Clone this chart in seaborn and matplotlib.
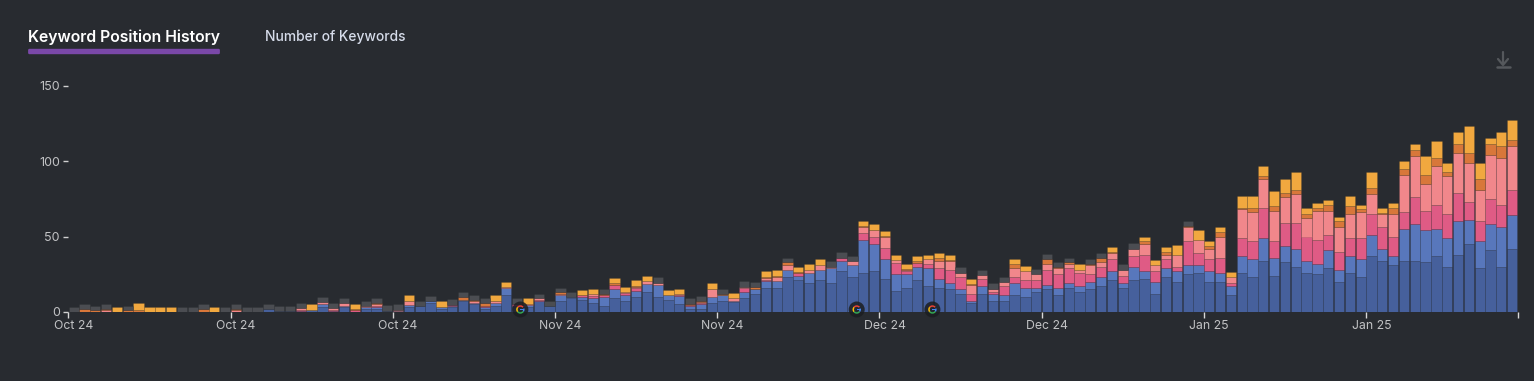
import numpy as np
import pandas as pd
import seaborn as sns
import matplotlib.pyplot as plt
from matplotlib.lines import Line2D
from matplotlib.patches import Circle, FancyBboxPatch, Rectangle, Wedge

# one entry per day, stacked from the bottom up
pos_1_3 = [0, 0, 0, 0, 0, 0, 0, 0, 0, 0,
           0, 0, 0, 0, 0, 0, 0, 0, 2, .5,
           .5, .5, 1.5, 3, .5, 3, 0, 2, 2, .5,
           .5, 3, 4, 6, 2, 3, 7, 5, 2, 4,
           11, 3, 3.5, 7, 4, 7.5, 9.5, 8, 6, 4,
           9.5, 7, 10, 13, 10, 8, 5, 2, 2, 6,
           7.5, 6.5, 9.5, 12, 16, 16, 23, 21, 19, 21,
           19, 27, 23, 26, 27, 22, 14, 16, 21, 17,
           16, 15, 12, 6, 12, 7, 7, 11, 10, 13,
           15, 11, 16, 13, 15, 17, 21, 16, 21, 22,
           12, 23, 20, 25, 26, 20, 20, 11, 26, 23,
           34, 24, 33, 30, 26, 25, 29, 20, 26, 23,
           37, 34, 31, 34, 34, 33, 37, 30, 38, 45,
           29, 41, 30, 42]
pos_4_10 = [0, 0, 0, 0, 0, 0, 0, 0, 0, 0,
            0, 0, 0, 0, 0, 0, 0, 0, 0, 0,
            0, 0, 0, 2, 0, 1, 0, 1, 1, 0,
            0, 1.5, 0, 1, 1, 1, 1, 1, 1, 2,
            5, 1, 1, 0, 0, 3.5, .5, 2, 3.5, 6,
            5.5, 4.5, 4, 5.5, 8, 3, 5.5, 2, 3, 4,
            3.5, .5, 4, 3, 4.5, 4.5, 5, 3, 7, 7,
            10, 7, 8, 22, 18, 13, 11, 9, 9, 12,
            6, 4, 3, 1, 5, 5, 4, 8, 6, 3,
            3, 5, 3, 4, 5, 6, 6, 3, 9, 5,
            8, 6, 7, 6, 5, 7, 6, 6.5, 11, 12,
            15, 12, 11, 12, 8, 7, 12, 8, 11, 12,
            14, 8, 6, 21, 24, 21, 18, 19, 22, 16,
            18, 17, 26, 22]
pos_11_20 = [0, 0, 0, 0, 0, 0, 0, 0, 0, 0,
             0, 0, 0, 0, 0, 0, 0, 0, 0, 0,
             0, 1, 0, .5, 1, 0, 1, .5, 1, 0,
             0, 0, 0, 0, 0, .5, 0, 0, 1, 0,
             0, 1, 0, 1, 0, 0, 0, 1, 1, 1,
             3, 1, 2, 0, 0, 0, .5, .5, 1, 0,
             0, 0, 2.5, .5, 1, 0, 0, 2, 0, 0,
             0, 2, 0, 4, 5, 7.5, 7.5, 2, 2.5, 3,
             7, 9, 8, 5, 5, 1, 6, 4, 5, 5,
             10, 9, 10, 9, 5, 7, 8, 5, 7, 11,
             7, 6, 3, 16, 8, 8, 10, 2, 12, 12,
             20, 11, 15, 17, 16, 16, 10, 12, 12, 14,
             14, 14, 13, 11, 18, 13, 16, 16, 19, 12,
             13, 17, 15, 17]
pos_21_30 = [0, 0, 0, 1, 0, 0, 0, 0, 0, 0,
             0, 0, 0, 0, 0, 1, 0, 0, 0, 0,
             0, 1, 0, 1, 1, 2, 0, .5, 1, 0,
             1, 2.5, 0, 0, .5, 0, 0, 1.5, 0, 1,
             .5, .5, .5, 1, 0, 1, 0, .5, 1.5, 0,
             0, 1, .5, 2, 1.5, 0, 1, 0, .5, 5,
             0, 2, .5, 0, 1, 3, 3, 0, 2, 3,
             1, 0, 3, 4, 4, 7.5, 2, 1, 0, 3,
             5, 6, 3, 6, 2.5, 2, 3, 6, 6, 4,
             4, 4, 3, 2, 6, 3, 4, 4, 5, 7,
             4, 3, 8, 9, 9, 7, 14, 4, 19, 19,
             19, 20, 17, 19, 12, 19, 16, 16, 16, 17,
             13, 9, 15, 25, 27, 18, 26, 25, 26, 26,
             21, 29, 31, 29]
pos_31_50 = [0, 2, 1, 1, 0, 1, 1, 0, 0, 0,
             0, 0, 2, 0, 0, 1, 0, 0, 0, 0,
             0, 0, 0, 0, 0, 0, 1, 0, 1, 0,
             0, .5, 0, 0, 0, 0, 2, .5, 2, .5,
             0, 0, 0, 0, 0, 1, 0, 0, 0, 1,
             1, 0, .5, 0, 0, 0, 0, .5, .5, .5,
             1, 0, 0, 1, .5, .5, 2, .5, 0, 0,
             0, 0, 0, 1, .5, .5, 0, .5, 1, 0,
             1.5, .5, 0, .5, 0, .5, 0, 3, 0, 0,
             3, 1, 1, 0, 1, 3, 1, 0, 0, 2,
             0, 2, 0, 1, 0, 2, 3, 0, 1, 3,
             2, 3, 3, 3, 3, 2, 4, 4, 5, 2,
             4, .5, 4, 4, 4, 6, 5, 3, 6, 6,
             7, 7, 8, 4]
pos_51_100 = [0, 0, 0, 0, 3, 0, 5, 3, 3, 3,
              0, 0, 0, 3, 0, 0, 0, 0, 0, 0,
              0, 0, 3.5, 0, 0, 0, 3, 0, 0, 0,
              0, 3.5, 0, 0, 3.5, 0, 0, 0, 0, 3.5,
              3.5, 0, 4, 0, 0, 0, 0, 3, 3.5, 0,
              3.5, 3, 4, 3.5, 0, 3.5, 3.5, 0, 0, 3.5,
              0, 3.5, 0, 0, 4, 3.5, 0, 3.5, 4, 4,
              0, 0, 0, 3.5, 3.5, 3, 3.5, 3.5, 3.5, 3,
              3.5, 3.5, 0, 3.5, 0, 0, 0, 3, 3.5, 0,
              0, 0, 0, 3.5, 0, 0, 3, 0, 0, 3,
              3.5, 3, 6.5, 0, 6.5, 3, 3, 3, 8, 8,
              7, 10, 9, 12, 4, 3, 3, 3, 7, 3,
              11, 3.5, 3.5, 5, 4, 12, 11, 6, 8, 18,
              11, 4, 9, 13]
unknown = [3, 3, 3, 3, 0, 3, 0, 0, 0, 0,
           3, 3, 3, 0, 3, 3, 3, 3, 3, 3.5,
           3.5, 3.5, 0, 3.5, 3.5, 3, 0, 3, 3, 4,
           3.5, 0, 3, 3.5, 0, 4, 3, 3, 3, 0,
           0, 3.5, 0, 3, 3, 3, 3.5, 0, 0, 3,
           0, 0, 0, 0, 3.5, 0, 0, 4, 3.5, 0,
           3, 0, 4, 3.5, 0, 0, 3, 0, 0, 0,
           4, 3.5, 3, 0, 0, 0, 0, 0, 0, 0,
           0, 0, 3.5, 0, 3.5, 3.5, 3, 0, 0, 3.5,
           3.5, 3, 3, 0, 3, 3, 0, 3.5, 3.5, 0,
           0, 0, 0, 3, 0, 0, 0, 0, 0, 0,
           0, 0, 0, 0, 0, 0, 0, 0, 0, 0,
           0, 0, 0, 0, 0, 0, 0, 0, 0, 0,
           0, 0, 0, 0]

days = list(range(134))
y_ticks = [0, 50, 100, 150]
x_tick_days = [0, 15, 30, 45, 60, 75, 90, 105, 120]
x_tick_labels = ['Oct 24', 'Oct 24', 'Oct 24', 'Nov 24', 'Nov 24',
                 'Dec 24', 'Dec 24', 'Jan 25', 'Jan 25']
update_days = [41.3, 72.4, 79.4]

series = [pos_1_3, pos_4_10, pos_11_20, pos_21_30, pos_31_50, pos_51_100, unknown]
colors = ['#46609c', '#5877bc', '#df5b85', '#f1878b', '#d8773a', '#f1a83f', '#4b4d52']

BG = '#282b30'
W, H = 1534, 381
LEFT, RIGHT = 68.3, 1517.5

sns.set_theme(style='white')
plt.rcParams['font.family'] = ['Inter', 'DejaVu Sans']

fig = plt.figure(figsize=(W / 100, H / 100), dpi=100, facecolor=BG)
ax = fig.add_axes([LEFT / W, (H - 312) / H, (RIGHT - LEFT) / W, 226.5 / H], facecolor=BG)

bottom = np.zeros(len(days))
for values, color in zip(series, colors):
    df = pd.DataFrame({'day': days, 'n': values, 'bottom': bottom})
    df = df[df['n'] > 0]
    sns.barplot(data=df, x='day', y='n', order=days, bottom=df['bottom'].values,
                color=color, saturation=1, width=0.95, errorbar=None,
                edgecolor=(0.1, 0.1, 0.1, 0.2), linewidth=0.4, ax=ax)
    bottom = bottom + np.array(values)

ax.set_xlim(-0.5, 133.5)
ax.set_ylim(0, 150)
ax.set_xlabel('')
ax.set_ylabel('')
sns.despine(ax=ax, left=True, bottom=True)

# tick marks sit on the left edge of a bar, the label on its centre
ax.set_xticks([d - 0.5 for d in x_tick_days] + [133.5])
ax.set_xticklabels([])
ax.set_xticks(x_tick_days, labels=x_tick_labels, minor=True)
ax.tick_params(axis='x', which='major', length=4, width=1, color='#d8d8d8', bottom=True)
ax.tick_params(axis='x', which='minor', length=0, pad=6, labelsize=8.8, labelcolor='#c2c3c5', bottom=False)
ax.set_yticks(y_ticks)
ax.tick_params(axis='y', length=3.6, width=1, color='#d0d0d0', pad=2.5, left=True,
               labelsize=9, labelcolor='#c2c3c5')

# overlay in pixel coordinates for the tabs and icons
over = fig.add_axes([0, 0, 1, 1], facecolor='none')
over.set_xlim(0, W)
over.set_ylim(H, 0)
over.axis('off')

over.text(28, 37, 'Keyword Position History', color='white', fontsize=11.35,
          fontweight='semibold', va='center', ha='left')
over.text(265, 36.5, 'Number of Keywords', color='#d6dcea', fontsize=9.95,
          fontweight='medium', va='center', ha='left')
over.add_patch(FancyBboxPatch((29.5, 50.2), 189, 2.6, boxstyle='round,pad=1.4', fc='#7a48a8', ec='none'))

# download icon
over.add_line(Line2D([1503, 1503], [52, 64], color='#55585c', lw=1.6))
over.add_line(Line2D([1498, 1503, 1508], [59, 65, 59], color='#55585c', lw=1.6))
over.add_line(Line2D([1497, 1510], [66.5, 66.5], color='#55585c', lw=1.8))

# google update markers
for d in update_days:
    cx = LEFT + (d + 0.5) * (RIGHT - LEFT) / 134
    cy = 309.5
    over.add_patch(Circle((cx, cy), 8, fc='#1c1e21', ec='none', alpha=0.85, zorder=5))
    for t1, t2, c in [(-35, 15, '#4285f4'), (40, 140, '#ea4335'),
                      (140, 220, '#fbbc05'), (220, 325, '#34a853')]:
        over.add_patch(Wedge((cx, cy), 4.2, -t2, -t1, width=1.5, fc=c, ec='none', zorder=6))
    over.add_patch(Rectangle((cx, cy - 0.7), 4.0, 1.4, fc='#4285f4', ec='none', zorder=6))

fig.savefig('out.png', dpi=100, facecolor=BG)
